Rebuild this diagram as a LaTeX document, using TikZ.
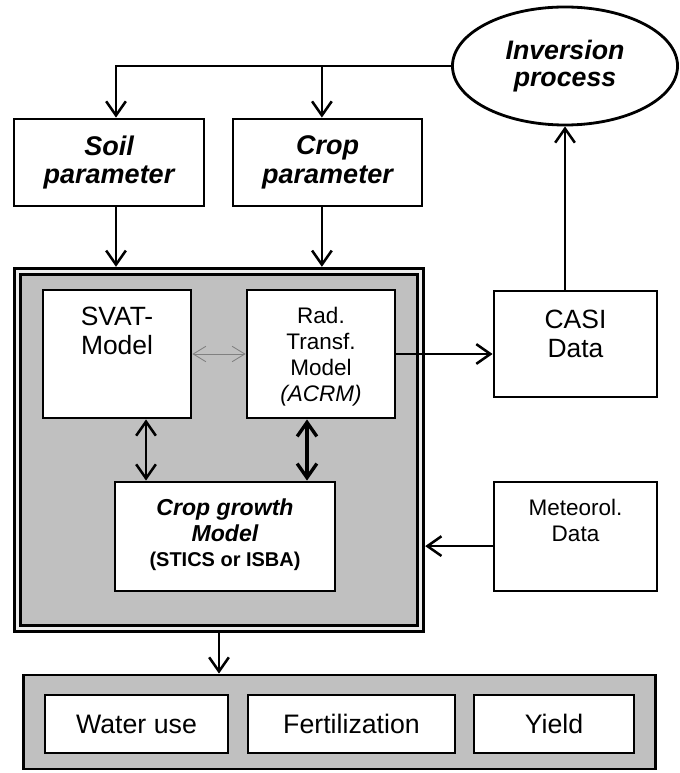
\documentclass[tikz,border=0pt]{standalone}
\usepackage{fontspec}
\setmainfont{Liberation Sans}
\usetikzlibrary{shapes.geometric,arrows.meta,positioning}
\definecolor{panelgray}{RGB}{192,192,192}
\tikzstyle{box}=[draw, line width=2pt, fill=white, inner sep=0pt]
\tikzstyle{txt}=[align=center, inner sep=0pt]
\tikzstyle{arr}=[line width=1.8pt, -{Straight Barb[length=10pt,width=14pt]}]
\tikzstyle{biarr}=[line width=1.8pt, {Straight Barb[length=10pt,width=14pt]}-{Straight Barb[length=10pt,width=14pt]}]
\tikzstyle{thinarr}=[gray, line width=0.6pt, {Straight Barb[length=9pt,width=11pt]}-{Straight Barb[length=9pt,width=11pt]}]
\tikzstyle{bigfont}=[font=\fontsize{18.8}{21}\selectfont]
\tikzstyle{midfont}=[font=\fontsize{16}{18.6}\selectfont]
\tikzstyle{parfont}=[font=\fontsize{19.2}{20.5}\selectfont\bfseries\itshape]

\begin{document}
\begin{tikzpicture}[x=0.025cm,y=-0.025cm]
\useasboundingbox (0,0) rectangle (679,773);
% outer model panel
\node[draw, line width=2.5pt, double=gray!15, double distance=1.6pt, fill=panelgray,
	minimum width=10.075cm, minimum height=8.925cm, outer sep=3.3pt] (model) at (219,450) {};
\node[box, fill=panelgray, minimum width=15.8cm, minimum height=2.35cm] (result) at (339.5,722) {};
% parameters and inversion
\node[draw, ellipse, line width=2pt, inner sep=0pt, minimum width=5.625cm, minimum height=2.95cm,
	txt, font=\fontsize{19}{19.5}\selectfont\bfseries\itshape] (inv) at (565,66) {Inversion\\process};
\node[box, minimum width=4.75cm, minimum height=2.175cm, txt, parfont] (soil) at (109,162.5) {Soil\\parameter};
\node[box, minimum width=4.725cm, minimum height=2.175cm, txt, parfont] (crop) at (327.5,162.5) {Crop\\parameter};
% models
\node[box, minimum width=3.7cm, minimum height=3.2cm] (svat) at (117,354) {};
\node[txt, bigfont, below=0.45cm of svat.north] (svattxt) {SVAT-\\Model};
\node[box, minimum width=3.7cm, minimum height=3.2cm] (rad) at (321,354) {};
\node[txt, midfont, below=0.45cm of rad.north] (radtxt) {Rad.\\Transf.\\Model\\\textit{(ACRM)}};
\node[box, minimum width=5.5cm, minimum height=2.725cm] (growth) at (225,536.5) {};
\node[txt, font=\fontsize{16.4}{17.8}\selectfont\bfseries\itshape, below=0.46cm of growth.north] (growthtxt)
	{Crop growth\\Model\\{\fontsize{14.2}{16.5}\selectfont\upshape (STICS or ISBA)}};
% data
\node[box, minimum width=4.075cm, minimum height=2.65cm] (casi) at (575.5,344) {};
\node[txt, bigfont, below=0.5cm of casi.north] (casitxt) {CASI\\Data};
\node[box, minimum width=4.075cm, minimum height=2.725cm] (meteo) at (575.5,536.5) {};
\node[txt, midfont, below=0.46cm of meteo.north] (meteotxt) {Meteorol.\\Data};
% results
\foreach \name/\cx/\w/\lbl in {water/136.5/4.575/Water use, fert/351.5/5.175/Fertilization, yield/554/4.0/Yield} {
	\node[box, minimum width=\w cm, minimum height=1.45cm, font=\fontsize{19}{20}\selectfont] (\name) at (\cx,724) {\lbl};
}
% connectors
\draw[arr] (inv.west) -- ([xshift=0.175cm]soil.north |- inv.west) -- ([xshift=0.175cm]soil.north);
\draw[arr] ([xshift=-0.14cm]crop.north |- inv.west) -- ([xshift=-0.14cm]crop.north);
\draw[arr] ([xshift=0.175cm]soil.south) -- ([xshift=0.175cm]soil.south |- model.north);
\draw[arr] ([xshift=-0.14cm]crop.south) -- ([xshift=-0.14cm]crop.south |- model.north);
\draw[thinarr] (svat.east) -- (rad.west);
\draw[biarr] ([xshift=0.725cm]svat.south) -- ([xshift=0.725cm]svat.south |- growth.north);
\draw[biarr, line width=2.4pt] ([xshift=-0.35cm]rad.south) -- ([xshift=-0.35cm]rad.south |- growth.north);
\draw[arr] (rad.east) -- (casi.west |- rad.east);
\draw[arr] (inv.south |- casi.north) -- (inv.south);
\draw[arr] ([yshift=-0.24cm]meteo.west) -- ([yshift=-0.24cm]meteo.west -| model.east);
\draw[arr] (model.south) -- (model.south |- result.north);
\end{tikzpicture}
\end{document}
